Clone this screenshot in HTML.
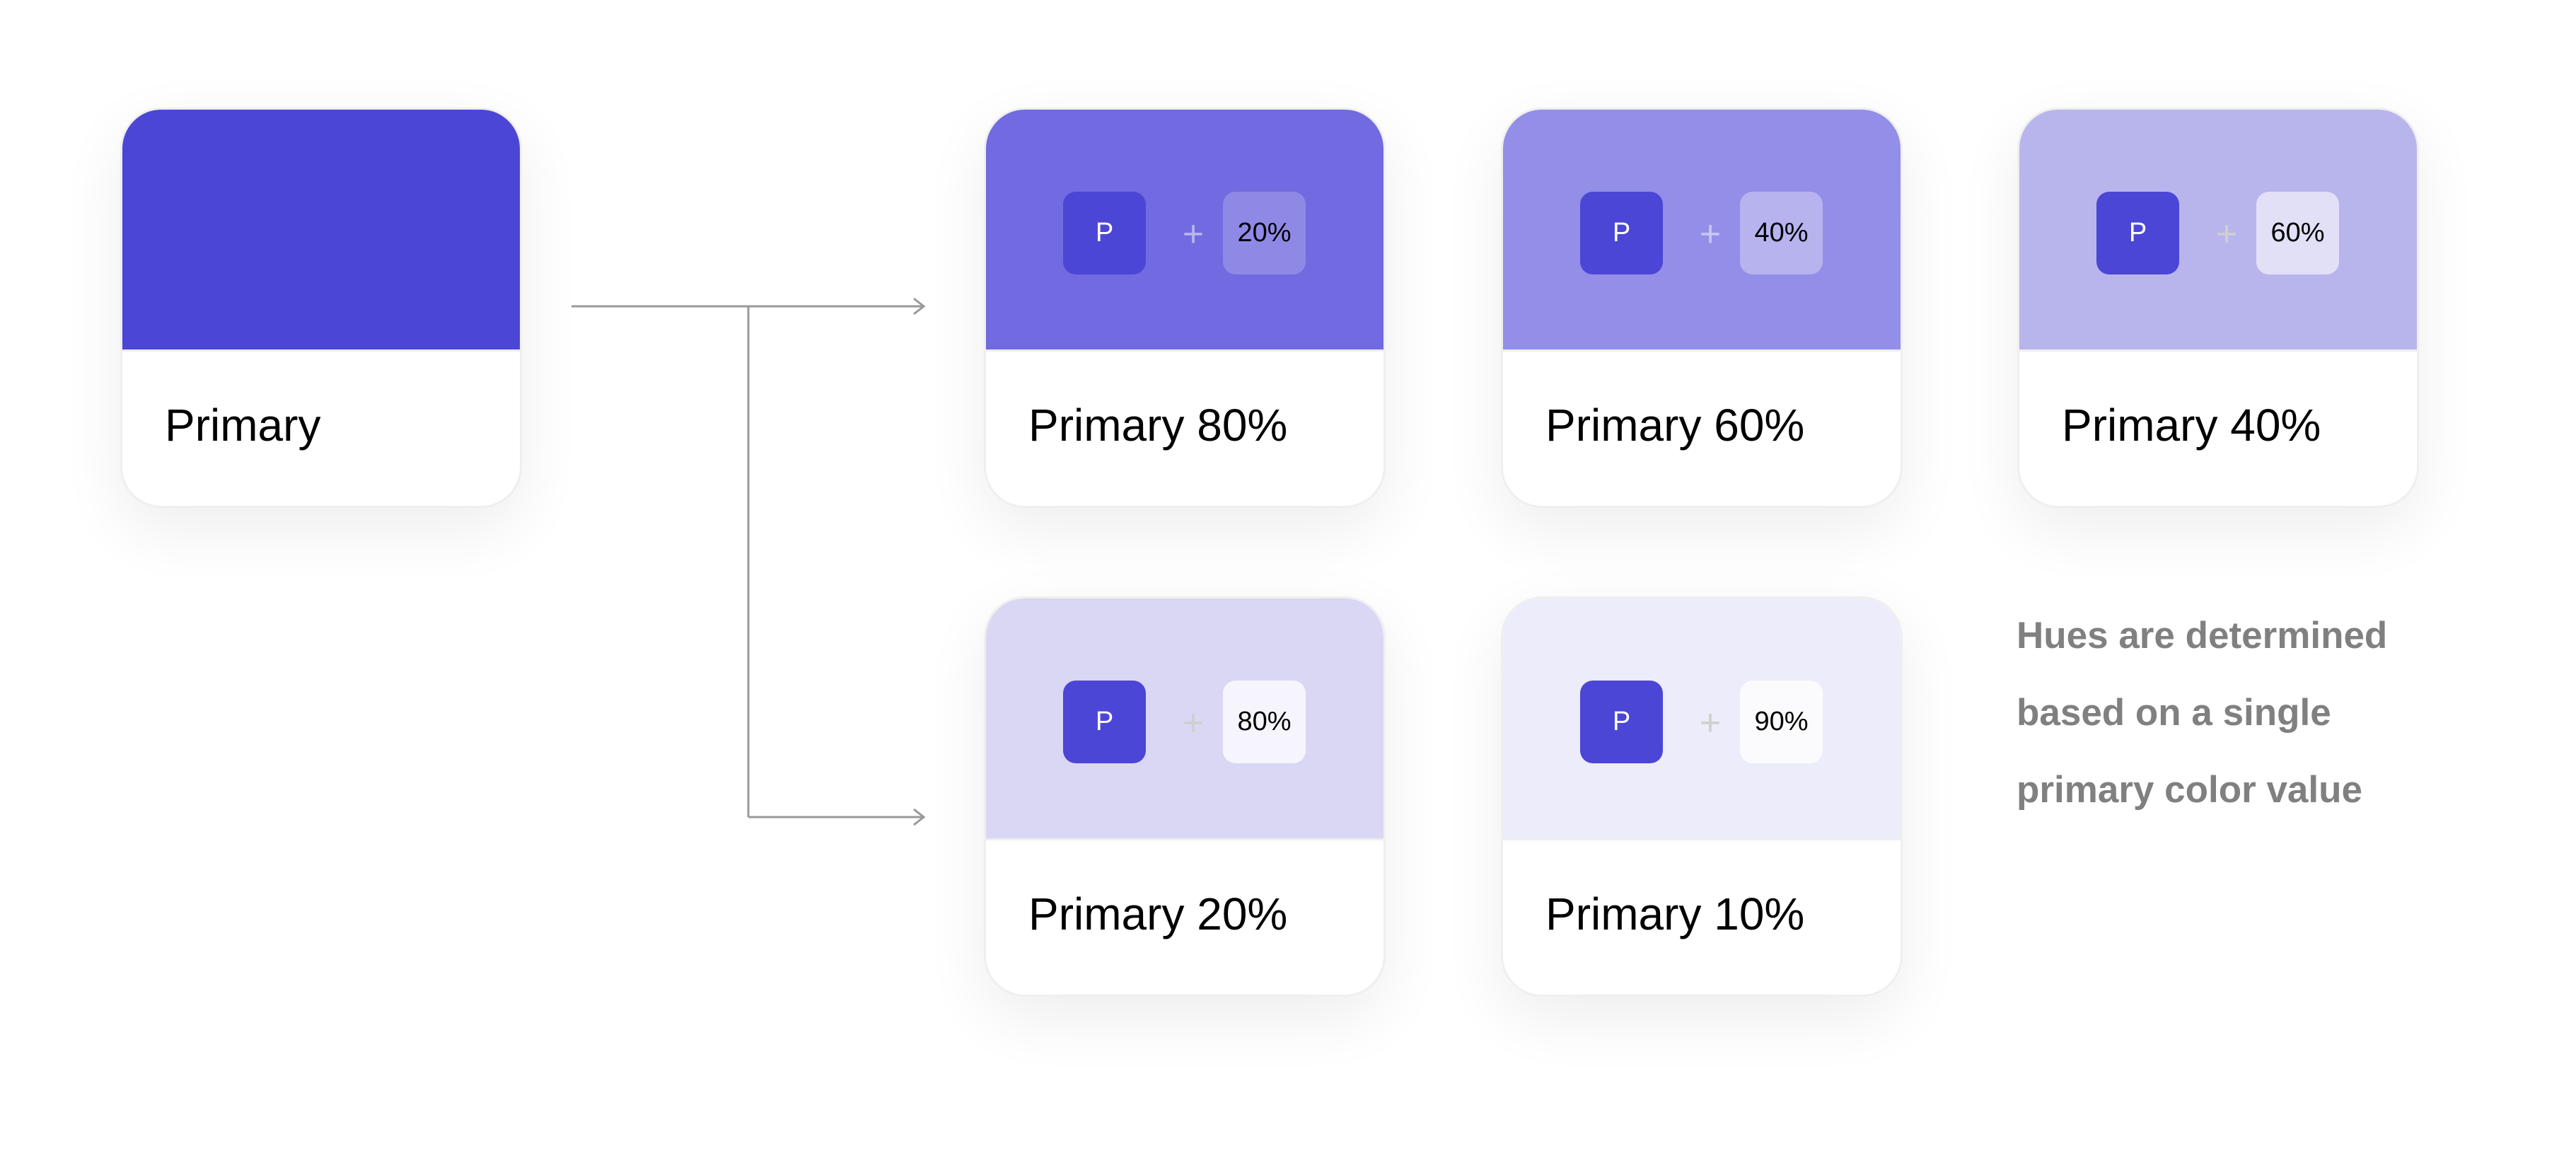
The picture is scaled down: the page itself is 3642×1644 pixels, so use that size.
<!DOCTYPE html>
<html><head><meta charset="utf-8"><style>
html,body{margin:0;padding:0;}
body{width:3642px;height:1644px;background:#fff;position:relative;overflow:hidden;font-family:"Liberation Sans",sans-serif;}
.card{position:absolute;width:568px;height:566px;border-radius:58px;background:#fff;border:3px solid #efefef;box-sizing:border-box;overflow:hidden;box-shadow:0 30px 90px rgba(0,0,0,0.07);}
.top{position:absolute;left:0;top:0;right:0;height:339px;border-bottom:3px solid #eee;}
.lbl{position:absolute;left:60px;top:414px;font-size:64px;color:#000;line-height:1;}
.chip{position:absolute;top:116px;width:117px;height:117px;border-radius:18px;display:flex;align-items:center;justify-content:center;font-size:38px;color:#000;}
.p{left:109px;background:#4c46d6;color:#fff;}
.c{left:335px;}
.plus{position:absolute;left:268px;top:150px;font-size:52px;color:#cfcfcf;line-height:1;width:50px;text-align:center;}
.note{position:absolute;left:2851px;font-size:53px;font-weight:bold;color:#808080;line-height:1;}
</style></head><body>

<div class="card" style="left:170px;top:152px;"><div class="top" style="background:#4c46d6"></div><div class="lbl">Primary</div></div>

<div class="card" style="left:1391px;top:152px;"><div class="top" style="background:#716ae0"><div class="chip p">P</div><div class="plus" style="color:#b8b4ee">+</div><div class="chip c" style="background:#8f89e6">20%</div></div><div class="lbl">Primary 80%</div></div>

<div class="card" style="left:2122px;top:152px;"><div class="top" style="background:#938ee7"><div class="chip p">P</div><div class="plus" style="color:#c9c6f2">+</div><div class="chip c" style="background:#b7b3ef">40%</div></div><div class="lbl">Primary 60%</div></div>

<div class="card" style="left:2852px;top:152px;"><div class="top" style="background:#b8b5ed"><div class="chip p">P</div><div class="plus">+</div><div class="chip c" style="background:#e2e0f7">60%</div></div><div class="lbl">Primary 40%</div></div>

<div class="card" style="left:1391px;top:843px;"><div class="top" style="background:#dad7f4"><div class="chip p">P</div><div class="plus">+</div><div class="chip c" style="background:#f6f5fd">80%</div></div><div class="lbl">Primary 20%</div></div>

<div class="card" style="left:2122px;top:843px;"><div class="top" style="background:#edecfa"><div class="chip p">P</div><div class="plus">+</div><div class="chip c" style="background:#fbfbfe">90%</div></div><div class="lbl">Primary 10%</div></div>

<svg style="position:absolute;left:0;top:0" width="3642" height="1644">
<g stroke="#999" stroke-width="3" fill="none">
<line x1="808" y1="433" x2="1306" y2="433"/>
<line x1="1058" y1="433" x2="1058" y2="1155"/>
<line x1="1058" y1="1155" x2="1306" y2="1155"/>
<polyline points="1292,422 1306,433 1292,444"/>
<polyline points="1292,1144 1306,1155 1292,1166"/>
</g></svg>

<div class="note" style="top:872px;">Hues are determined</div>
<div class="note" style="top:981px;">based on a single</div>
<div class="note" style="top:1090px;">primary color value</div>
</body></html>
